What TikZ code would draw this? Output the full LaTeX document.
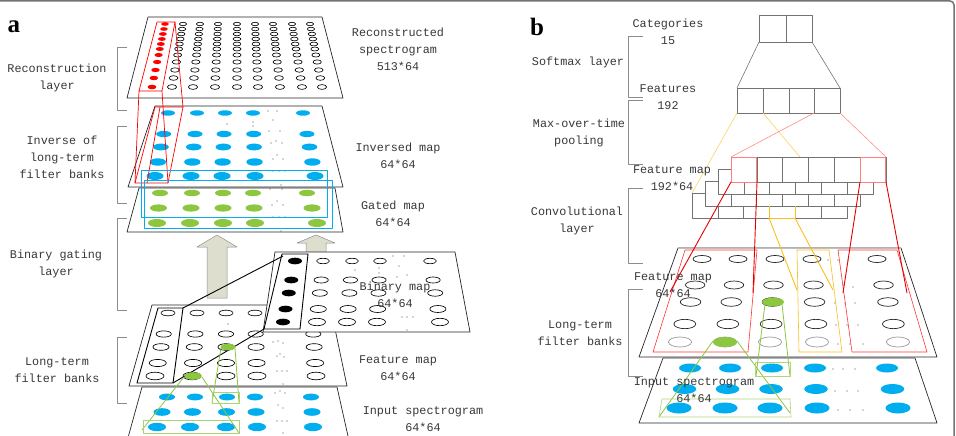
\documentclass[tikz,border=0pt]{standalone}
\usepackage{fontspec}
\newfontfamily\labelfont{Liberation Mono}
\newfontfamily\panelfont{Liberation Serif}
\begin{document}
\begin{tikzpicture}[x=1pt, y=-1pt, line join=round,
    lbl/.style={font=\labelfont\fontsize{11.8}{17}\selectfont, text=black!78, align=center, inner sep=0pt},
    tag/.style={font=\panelfont\bfseries\fontsize{25}{25}\selectfont, inner sep=0pt},
    brace/.style={draw=black!45, line width=0.6pt},
    plane/.style={fill=white, draw=black!85, line width=0.7pt},
    boxline/.style={draw=black!55, line width=0.6pt},
    bigarrow/.style={fill=khaki, draw=black!45, line width=0.5pt},
    tinydot/.style={fill=black!70}]
  % colours
  \definecolor{skyblue}{RGB}{0,174,239}
  \definecolor{leafgreen}{RGB}{141,198,63}
  \definecolor{khaki}{RGB}{222,222,206}
  \definecolor{amber}{RGB}{250,190,30}
  \useasboundingbox (0,0) rectangle (956,436);

  % frame
  \draw[black!55, line width=1.5pt, rounded corners=4pt] (-2,1) -- (954,1) -- (954,440);

  % ===================== panel a =====================
  \node[tag] (tagA) at (14,27) {a};

  % reconstructed spectrogram
  \draw[plane] (148,17) -- (322,17) -- (343,98) -- (127,98) -- cycle;
  \foreach \y/\s in {24/0,29/0.08,34/0.16,39/0.24,44/0.32,49/0.40,55/0.49,62/0.60,70/0.73,78/0.86,87/1} {
    \fill[red] ({165-13*\s},\y) ellipse [x radius={3.8+0.6*\s}, y radius={1.8+0.5*\s}];
    \foreach \a/\b in {183/172,200/193,218/215,237/237,255/258,273/280,292/302,310/322}
      \draw[line width=0.65pt] ({\a+\s*(\b-\a)},\y) ellipse [x radius={3.6+1*\s}, y radius={1.7+0.7*\s}];
  }
  \draw[red, line width=0.7pt] (157,22) -- (175,22) -- (162,91) -- (139,91) -- cycle;

  % inversed map
  \draw[plane] (155,106) -- (322,106) -- (343,187) -- (128,187) -- cycle;
  \foreach \y/\s in {113/0,134/0.33,147/0.54,162/0.78,176/1}
    \foreach \a/\b in {168/155,197/191,225/222,253/255,303/315}
      \fill[skyblue] ({\a+\s*(\b-\a)},\y) ellipse [x radius={7+1.5*\s}, y radius={2.7+1.3*\s}];
  \foreach \p in {(268,111),(277,111),(227,124),(253,122),(253,126),(273,120),(269,131),(280,131),(271,143),(276,141),(282,143),(277,155),(273,159),(283,159),(273,171),(279,171),(285,171)}
    \fill[tinydot] \p circle [radius=0.7];

  % red path between the two top layers
  \draw[red, line width=0.7pt] (155,107) -- (183,107) -- (168,183) -- (135,183) -- cycle;
  \draw[red, line width=0.7pt] (139,91) -- (135,183) (162,91) -- (168,183) (175,22) -- (183,107) (160,107) -- (147,183);

  % gated map
  \draw[plane] (139,188) -- (335,188) -- (343,232) -- (127,232) -- cycle;
  \foreach \y/\s in {193/0,208/0.5,223/1}
    \foreach \a/\b in {160/157,192/190,223/223,253/255,307/317}
      \fill[leafgreen] ({\a+\s*(\b-\a)},\y) ellipse [x radius={8+1*\s}, y radius={3.2+0.8*\s}];
  \foreach \p in {(270,189),(281,185),(282,189),(277,201),(272,205),(283,205),(273,217),(279,217),(285,217),(281,231)}
    \fill[tinydot] \p circle [radius=0.7];
  \draw[skyblue, line width=0.7pt] (141,170) rectangle (327,217) (144,180) rectangle (332,228);

  % binary gating arrows
  \draw[bigarrow] (217,235) -- (237,247) -- (227,247) -- (227,298) -- (207,298) -- (207,247) -- (197,247) -- cycle;
  \draw[bigarrow] (316,235) -- (335,243) -- (326,243) -- (326,258) -- (306,258) -- (306,243) -- (297,243) -- cycle;

  % input spectrogram
  \draw[plane] (142,387) -- (337,387) -- (350,445) -- (126,445) -- cycle;
  \foreach \y/\s in {397/0,412/0.5,427/1}
    \foreach \a/\b in {167/157,195/190,227/226,255/257,311/313}
      \fill[skyblue] ({\a+\s*(\b-\a)},\y) ellipse [x radius={8+1*\s}, y radius={3.4+0.8*\s}];
  \foreach \p in {(275,393),(280,391),(285,393),(278,405),(283,408),(277,421),(282,421),(287,421),(283,433)}
    \fill[tinydot] \p circle [radius=0.7];

  % feature map
  \draw[plane] (152,305) -- (330,305) -- (347,386) -- (129,386) -- cycle;
  \foreach \y/\s in {313/0,334/0.33,347/0.54,363/0.79,376/1}
    \foreach \a/\b in {168/155,197/192,226/226,255/257,312/316}
      \draw[line width=0.65pt] ({\a+\s*(\b-\a)},\y) ellipse [x radius={7+2*\s}, y radius={2.8+1*\s}];
  \foreach \p in {(228,324),(273,342),(278,341),(283,343),(277,356),(280,354),(284,357),(277,371),(282,371),(287,371),(283,384)}
    \fill[tinydot] \p circle [radius=0.7];
  \draw[line width=0.9pt] (158,308) -- (183,308) -- (173,383) -- (137,383) -- cycle;

  % binary map
  \draw[plane] (275,252) -- (455,252) -- (470,332) -- (263,332) -- cycle;
  \foreach \y/\s in {261/0,280/0.31,293/0.52,309/0.79,322/1} {
    \fill ({295-12*\s},\y) ellipse [x radius=7, y radius=3.3];
    \foreach \a/\b in {323/317,352/347,380/377,430/440}
      \draw[line width=0.65pt] ({\a+\s*(\b-\a)},\y) ellipse [x radius={6.5+2*\s}, y radius={2.7+1*\s}];
  }
  \foreach \p in {(393,256),(404,256),(399,266),(355,270),(379,268),(379,273),(397,277),(407,275),(402,317),(407,317),(413,317),(407,330)}
    \fill[tinydot] \p circle [radius=0.7];
  \draw[line width=0.9pt] (282,254) -- (308,254) -- (300,329) -- (264,329) -- cycle;
  \draw[line width=0.9pt] (183,308) -- (283,256) (173,383) -- (264,329);

  % filter links
  \fill[leafgreen] (228,347) ellipse [x radius=7.5, y radius=3.3];
  \fill[leafgreen] (193,376) ellipse [x radius=8.5, y radius=3.8];
  \draw[leafgreen, line width=0.8pt] (184,377) -- (142,430) (202,377) -- (239,433) (221,348) -- (212,403) (235,348) -- (239,403);
  \draw[leafgreen!75, line width=0.6pt] (143,420) rectangle (239,433) (212,392) rectangle (239,403);

  % labels
  \draw[brace] (127,47) -- (117,47) -- (117,110) -- (127,110);
  \draw[brace] (127,126) -- (117,126) -- (117,203) -- (127,203);
  \draw[brace] (127,218) -- (117,218) -- (117,310) -- (127,310);
  \draw[brace] (127,337) -- (117,337) -- (117,403) -- (127,403);
  \node[lbl] (reconLayer) at (57,78) {Reconstruction\\layer};
  \node[lbl] (inverseLayer) at (62,157) {Inverse of\\long-term\\filter banks};
  \node[lbl] (gatingLayer) at (56,264) {Binary gating\\layer};
  \node[lbl] (filterLayerA) at (57,370) {Long-term\\filter banks};
  \node[lbl] (reconMap) at (398,49) {Reconstructed\\spectrogram\\513*64};
  \node[lbl] (inversedMap) at (398,156) {Inversed map\\64*64};
  \node[lbl] (gatedMap) at (393,214) {Gated map\\64*64};
  \node[lbl] (binaryMap) at (395,295) {Binary map\\64*64};
  \node[lbl] (featureMapA) at (398,368) {Feature map\\64*64};
  \node[lbl] (inputMapA) at (423,419) {Input spectrogram\\64*64};

  % ===================== panel b =====================
  \node[tag] (tagB) at (537,27) {b};

  % softmax and pooling boxes
  \draw[boxline] (759,15) rectangle (812,42) (786,15) -- (786,42);
  \draw[boxline] (759,42) -- (737,88) (812,42) -- (840,88);
  \draw[boxline] (737,88) rectangle (840,113) (763,88) -- (763,113) (789,88) -- (789,113) (814,88) -- (814,113);
  \draw[amber!70, line width=0.6pt] (737,113) -- (692,193) (763,113) -- (800,157);
  \draw[red!45, line width=0.6pt] (814,113) -- (731,157) (840,113) -- (886,157);

  % input spectrogram
  \draw[plane] (663,358) -- (915,358) -- (937,423) -- (639,423) -- cycle;
  \foreach \y/\s in {368/0,389/0.5,408/1}
    \foreach \a/\b in {690/679,730/725,772/770,815/817,887/898}
      \fill[skyblue] ({\a+\s*(\b-\a)},\y) ellipse [x radius={11+1.5*\s}, y radius={4.5+1*\s}];
  \foreach \p in {(833,369),(843,369),(855,369),(835,391),(847,391),(858,391),(838,410),(850,410),(863,410)}
    \fill[tinydot] \p circle [radius=0.7];

  % feature map
  \draw[plane] (678,248) -- (901,248) -- (937,357) -- (639,357) -- cycle;
  \draw[black!25, line width=0.8pt] (678,248) -- (901,248);
  \foreach \y/\s/\c in {259/0/85,285/0.31/85,302/0.52/85,324/0.78/85,342/1/40}
    \foreach \a/\b in {702/680,738/725,775/770,812/817,877/898}
      \draw[black!\c, line width=0.7pt] ({\a+\s*(\b-\a)},\y) ellipse [x radius={9+2.5*\s}, y radius={3.5+1.5*\s}];
  \foreach \p in {(828,260),(838,260),(848,260),(843,285),(853,287),(835,303),(845,303),(855,303),(836,325),(847,325),(858,325),(838,344),(850,344),(863,344)}
    \fill[tinydot] \p circle [radius=0.7];
  \draw[red!80, line width=0.6pt] (685,250) -- (757,250) -- (748,352) -- (653,352) -- cycle;
  \draw[red!80, line width=0.6pt] (838,250) -- (897,250) -- (927,352) -- (852,352) -- cycle;
  \draw[amber, line width=0.6pt] (797,250) -- (829,250) -- (842,352) -- (799,352) -- cycle;

  % filter links
  \fill[leafgreen] (773,302) ellipse [x radius=11, y radius=4.3];
  \fill[leafgreen] (725,342) ellipse [x radius=12, y radius=5];
  \draw[leafgreen, line width=0.8pt] (713,341) -- (659,417) (737,341) -- (790,413) (765,304) -- (756,376) (782,304) -- (790,376);
  \draw[leafgreen!70, line width=0.6pt] (662,399) -- (790,399) -- (791,417) -- (659,417) -- cycle;
  \draw[leafgreen!70, line width=0.6pt] (755,362) rectangle (790,376);

  % convolutional layer
  \foreach \i in {3,2,1,0}
    \foreach \k in {0,...,5}
      \draw[boxline, fill=white] ({731-13*\i+25.8*\k},{157+12*\i}) rectangle +(25.8,25);
  \draw[amber, line width=0.7pt] (769,206) -- (769,218) -- (795,218) -- (795,206);
  \draw[red!50, line width=0.7pt] (731,157) rectangle +(25.8,25) (860,157) rectangle +(25.8,25);
  \draw[red!90!black, line width=0.9pt] (731,182) -- (670,292) (757,182) -- (753,293) (860,182) -- (843,293) (886,182) -- (907,293);
  \draw[amber, line width=0.9pt] (769,218) -- (797,290) (795,218) -- (833,290);

  % labels
  \draw[brace] (643,36) -- (628,36) -- (628,97) -- (643,97);
  \draw[brace] (643,100) -- (628,100) -- (628,164) -- (643,164);
  \draw[brace] (643,188) -- (628,188) -- (628,263) -- (643,263);
  \draw[brace] (643,289) -- (628,289) -- (628,376) -- (643,376);
  \node[lbl] (categories) at (668,31.5) {Categories\\15};
  \node[lbl] (softmaxLayer) at (578,62) {Softmax layer};
  \node[lbl] (features) at (668,97.5) {Features\\192};
  \node[lbl] (poolingLayer) at (579,132.5) {Max-over-time\\pooling};
  \node[lbl] (featureMapConv) at (672,178) {Feature map\\192*64};
  \node[lbl] (convLayer) at (577,221) {Convolutional\\layer};
  \node[lbl] (featureMapB) at (673,285) {Feature map\\64*64};
  \node[lbl] (filterLayerB) at (580,333.5) {Long-term\\filter banks};
  \node[lbl] (inputMapB) at (694,390.5) {Input spectrogram\\64*64};
\end{tikzpicture}
\end{document}
